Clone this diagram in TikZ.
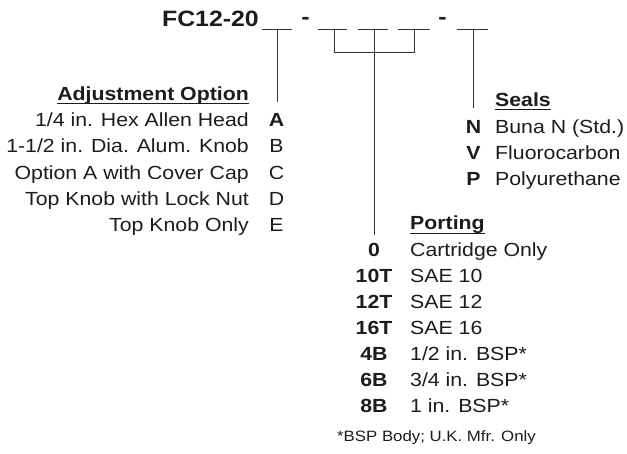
\documentclass[tikz,border=0pt]{standalone}
\usepackage{fontspec}
\setmainfont[FakeStretch=1.12]{Liberation Sans}
\usepackage{tikz}
\usetikzlibrary{positioning}
\definecolor{inkgray}{HTML}{1c1c1c}
\definecolor{linegray}{HTML}{333333}

\begin{document}
\begin{tikzpicture}[x=1pt, y=-1pt,
  txt/.style={inner sep=0pt, text=inkgray, font=\fontsize{19}{23}\selectfont},
  codetxt/.style={txt, font=\fontsize{19}{23}\selectfont\bfseries},
  headtxt/.style={txt, font=\fontsize{19}{23}\selectfont\bfseries},
  notetxt/.style={txt, font=\fontsize{15}{18}\selectfont},
  blank/.style={line width=0.9pt, draw=linegray},
  lead/.style={line width=0.9pt, draw=linegray},
  headrule/.style={line width=0.9pt, draw=inkgray}]
  \useasboundingbox (0,0) rectangle (627,454);
  % model code with its blanks
  \node[txt, font=\fontsize{22.2}{26}\selectfont\bfseries, anchor=base east] (model) at (259,27) {FC12-20};
  \node[txt, font=\fontsize{22.2}{26}\selectfont\bfseries, anchor=base] (dashA) at (305.5,25) {-};
  \node[txt, font=\fontsize{22.2}{26}\selectfont\bfseries, anchor=base] (dashB) at (442.5,25) {-};
  \coordinate (adjL) at (262,29);  \coordinate (adjR) at (292,29);
  \coordinate (portAL) at (318,29); \coordinate (portAR) at (347,29);
  \coordinate (portBL) at (358,29); \coordinate (portBR) at (388,29);
  \coordinate (portCL) at (398,29); \coordinate (portCR) at (430,29);
  \coordinate (sealL) at (457,29); \coordinate (sealR) at (488,29);
  \draw[blank] (adjL) -- (adjR);
  \draw[blank] (portAL) -- (portAR);
  \draw[blank] (portBL) -- (portBR);
  \draw[blank] (portCL) -- (portCR);
  \draw[blank] (sealL) -- (sealR);
  % leads down to the option lists
  \coordinate (adjtop) at (277,29);   \coordinate (adjbot) at (277,102);
  \coordinate (sealtop) at (473,29);  \coordinate (sealbot) at (473,108);
  \coordinate (portA) at (334,29);    \coordinate (portB) at (374,29);
  \coordinate (portC) at (414,29);
  \coordinate (joinA) at (334,52);    \coordinate (joinB) at (374,52);
  \coordinate (joinC) at (414,52);    \coordinate (portbot) at (374,235);
  \draw[lead] (adjtop) -- (adjbot);
  \draw[lead] (sealtop) -- (sealbot);
  \draw[lead] (portA) -- (joinA) -- (joinC) -- (portC);
  \draw[lead] (portB) -- (portbot);
  % adjustment option
  \node[headtxt, anchor=base east] (adjhead) at (249,101) {Adjustment Option};
  \draw[headrule] ([yshift=-2.5pt]adjhead.base west) -- ([yshift=-2.5pt]adjhead.base east);
  \node[txt, anchor=base east] (adjA) at (249,127) {1/4 in. Hex Allen Head};
  \node[txt, anchor=base east] (adjB) at (249,153) {1-1/2 in. Dia. Alum. Knob};
  \node[txt, anchor=base east] (adjC) at (249,180) {Option A with Cover Cap};
  \node[txt, anchor=base east] (adjD) at (249,206) {Top Knob with Lock Nut};
  \node[txt, anchor=base east] (adjE) at (249,232) {Top Knob Only};
  \node[codetxt, anchor=base] (codeA) at (276.5,127) {A};
  \node[txt, anchor=base] (codeB) at (276.5,153) {B};
  \node[txt, anchor=base] (codeC) at (276.5,180) {C};
  \node[txt, anchor=base] (codeD) at (276.5,206) {D};
  \node[txt, anchor=base] (codeE) at (276.5,232) {E};
  % seals
  \node[headtxt, anchor=base west] (sealhead) at (495,107) {Seals};
  \draw[headrule] ([yshift=-2.5pt]sealhead.base west) -- ([yshift=-2.5pt]sealhead.base east);
  \node[codetxt, anchor=base] (codeN) at (473.5,134) {N};
  \node[codetxt, anchor=base] (codeV) at (473.5,160) {V};
  \node[codetxt, anchor=base] (codeP) at (473.5,186) {P};
  \node[txt, anchor=base west] (sealN) at (495,134) {Buna N (Std.)};
  \node[txt, anchor=base west] (sealV) at (495,160) {Fluorocarbon};
  \node[txt, anchor=base west] (sealP) at (495,186) {Polyurethane};
  % porting
  \node[headtxt, anchor=base west] (porthead) at (410,230) {Porting};
  \draw[headrule] ([yshift=-3.5pt]porthead.base west) -- ([yshift=-3.5pt]porthead.base east);
  \node[codetxt, anchor=base] (code0) at (374,257) {0};
  \node[codetxt, anchor=base] (code10T) at (374,283) {10T};
  \node[codetxt, anchor=base] (code12T) at (374,309) {12T};
  \node[codetxt, anchor=base] (code16T) at (374,335) {16T};
  \node[codetxt, anchor=base] (code4B) at (374,361) {4B};
  \node[codetxt, anchor=base] (code6B) at (374,387) {6B};
  \node[codetxt, anchor=base] (code8B) at (374,413) {8B};
  \node[txt, anchor=base west] (port0) at (410,257) {Cartridge Only};
  \node[txt, anchor=base west] (port10T) at (410,283) {SAE 10};
  \node[txt, anchor=base west] (port12T) at (410,309) {SAE 12};
  \node[txt, anchor=base west] (port16T) at (410,335) {SAE 16};
  \node[txt, anchor=base west] (port4B) at (410,361) {1/2 in. BSP*};
  \node[txt, anchor=base west] (port6B) at (410,387) {3/4 in. BSP*};
  \node[txt, anchor=base west] (port8B) at (410,413) {1 in. BSP*};
  \node[notetxt, anchor=base west] (bspnote) at (337,442) {*BSP Body; U.K. Mfr. Only};
\end{tikzpicture}
\end{document}
